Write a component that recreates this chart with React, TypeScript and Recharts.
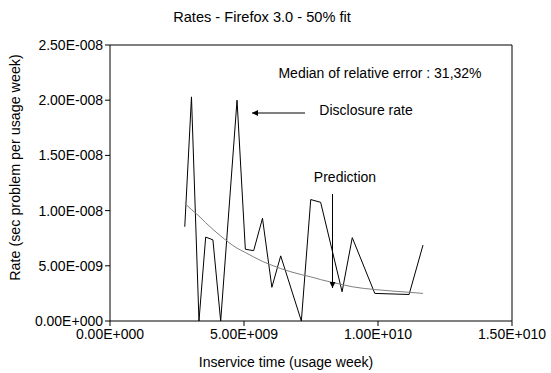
import React from 'react';
import { LineChart, Line, XAxis, YAxis, ReferenceLine } from 'recharts';

const inserviceTime = [2.79e9, 3.04e9, 3.32e9, 3.57e9, 3.84e9, 4.13e9, 4.74e9, 5.05e9, 5.36e9, 5.69e9, 6.04e9, 6.37e9, 7.14e9, 7.49e9, 7.86e9, 8.66e9, 9.04e9, 9.88e9, 11.16e9, 11.68e9];
const disclosureRate = [8.54e-9, 2.03e-8, 0, 7.6e-9, 7.35e-9, 0, 2.0e-8, 6.5e-9, 6.37e-9, 9.3e-9, 3.05e-9, 5.9e-9, 0, 1.1e-8, 1.075e-8, 2.65e-9, 7.55e-9, 2.5e-9, 2.4e-9, 6.88e-9];
const prediction = [10.65e-9, 10.1e-9, 9.5e-9, 8.9e-9, 8.3e-9, 7.7e-9, 6.6e-9, 6.2e-9, 5.8e-9, 5.4e-9, 5.05e-9, 4.75e-9, 4.2e-9, 4.0e-9, 3.75e-9, 3.3e-9, 3.1e-9, 2.85e-9, 2.6e-9, 2.5e-9];
const xTicks = [0, 5e9, 1e10, 1.5e10];
const yTicks = [0, 5e-9, 1e-8, 1.5e-8, 2e-8, 2.5e-8];

const title = 'Rates - Firefox 3.0 - 50% fit';
const xLabel = 'Inservice time (usage week)';
const yLabel = 'Rate (sec problem per usage week)';
const medianText = 'Median of relative error : 31,32%';

const data = inserviceTime.map((t, i) => ({ t, rate: disclosureRate[i], fit: prediction[i] }));

const fmt = (v: number) => {
  const s = v.toExponential(2);
  const [m, e] = s.split('e');
  const sign = e[0] === '-' ? '-' : '+';
  const digits = e.replace(/[+-]/, '').padStart(3, '0');
  return `${m}E${sign}${digits}`;
};

const FONT = '"Liberation Sans", Arial, sans-serif';

export default function App() {
  return (
    <div style={{ position: 'absolute', left: 0, top: 0, width: 551, height: 373, background: '#fff', fontFamily: FONT }}>
      <LineChart width={551} height={373} data={data} margin={{ top: 45, right: 39, bottom: 0, left: 0 }}>
        <XAxis
          dataKey="t"
          type="number"
          domain={[0, 1.5e10]}
          ticks={xTicks}
          tickFormatter={fmt}
          height={52}
          stroke="#000"
          tickSize={5}
          tickMargin={3}
          tick={{ fill: '#000', fontSize: 14, fontFamily: FONT }}
          interval={0}
        />
        <YAxis
          type="number"
          domain={[0, 2.5e-8]}
          ticks={yTicks}
          tickFormatter={fmt}
          width={110}
          stroke="#000"
          tickSize={5}
          tick={{ fill: '#000', fontSize: 14, fontFamily: FONT, dy: '0.2em' }}
          interval={0}
        />
        <ReferenceLine y={2.5e-8} stroke="#000" strokeWidth={1} />
        <ReferenceLine x={1.5e10} stroke="#000" strokeWidth={1} />
        <Line dataKey="rate" type="linear" stroke="#000" strokeWidth={1} dot={false} isAnimationActive={false} />
        <Line dataKey="fit" type="monotone" stroke="#808080" strokeWidth={1} dot={false} isAnimationActive={false} />
      </LineChart>
      <svg width={551} height={373} style={{ position: 'absolute', left: 0, top: 0, pointerEvents: 'none' }}>
        <defs>
          <marker id="arr" viewBox="0 0 10 10" refX="10" refY="5" markerWidth="8" markerHeight="6" orient="auto" markerUnits="userSpaceOnUse">
            <path d="M0,0 L10,5 L0,10 z" fill="#000" />
          </marker>
        </defs>
        <text x={262} y={22} textAnchor="middle" fontSize={14.6} fontFamily={FONT} fill="#000">{title}</text>
        <text x={286} y={367} textAnchor="middle" fontSize={14} fontFamily={FONT} fill="#000">{xLabel}</text>
        <text x={20} y={167.5} textAnchor="middle" fontSize={14.3} fontFamily={FONT} fill="#000" transform="rotate(-90 20 167.5)">{yLabel}</text>
        <text x={380} y={78} textAnchor="middle" fontSize={14} fontFamily={FONT} fill="#000">{medianText}</text>
        <text x={366} y={115} textAnchor="middle" fontSize={14} fontFamily={FONT} fill="#000">Disclosure rate</text>
        <line x1={305} y1={113} x2={252} y2={113} stroke="#000" strokeWidth={1} markerEnd="url(#arr)" />
        <text x={345} y={182} textAnchor="middle" fontSize={14} fontFamily={FONT} fill="#000">Prediction</text>
        <line x1={332.5} y1={194} x2={332.5} y2={288} stroke="#000" strokeWidth={1} markerEnd="url(#arr)" />
      </svg>
    </div>
  );
}
